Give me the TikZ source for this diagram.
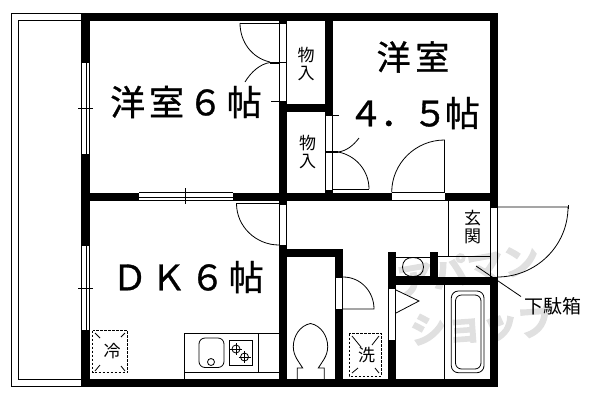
\documentclass[tikz,border=0pt]{standalone}
\usepackage{fontspec}
\newfontfamily\jp{Noto Sans CJK JP}
\newfontfamily\jpwide[LetterSpace=11,FakeBold=1]{Noto Sans CJK JP}
\newfontfamily\jpmid[LetterSpace=14,FakeBold=1]{Noto Sans CJK JP}
\newfontfamily\jptight[LetterSpace=-8,FakeBold=1]{Noto Sans CJK JP}
\newfontfamily\jpwm[FakeBold=4]{Noto Sans CJK JP Bold}
\definecolor{wm}{gray}{0.88}
\tikzset{
  wall/.style={fill=black},
  thin line/.style={draw=black,line width=0.8pt},
  heavy tick/.style={draw=black,line width=2pt},
  dash box/.style={draw=black,line width=0.8pt,dash pattern=on 2.5pt off 1.5pt},
  room big/.style={font=\jpwide\fontsize{35}{35}\selectfont,inner sep=0pt},
  room small/.style={font=\jp\fontsize{17}{18.5}\selectfont,inner sep=0pt,align=center},
  watermark/.style={font=\jpwm\fontsize{36}{36}\selectfont,text=wm,inner sep=0pt}
}
\begin{document}
\begin{tikzpicture}[x=1pt,y=-1pt]
\useasboundingbox (0,0) rectangle (600,400);
\fill[white] (0,0) rectangle (600,400);
% watermark
\node[watermark,rotate=10] (wma) at (468,269) {アパマン};
\node[watermark,rotate=4] (wmb) at (482,325) {ショップ};
% balcony
\draw[thin line] (81,13.5) -- (11.7,13.5) -- (11.7,386.3) -- (81,386.3);
\draw[thin line] (81,20.7) -- (18.3,20.7) -- (18.3,379.3) -- (81,379.3);
% walls: outer
\fill[wall] (81,13) rectangle (498,21);
\fill[wall] (81,379) rectangle (498,386.7);
\fill[wall] (81,13) rectangle (90,62.7);
\fill[wall] (81,154) rectangle (90,245.7);
\fill[wall] (81,330) rectangle (90,386.7);
\fill[wall] (490,13) rectangle (498,207.7);
\fill[wall] (490,277) rectangle (498,386.7);
% middle horizontal
\fill[wall] (81,192.5) rectangle (139,200.7);
\fill[wall] (233,192.5) rectangle (391.7,200.7);
\fill[wall] (444.5,192.5) rectangle (498,200.7);
% inner verticals
\fill[wall] (279.3,13) rectangle (287,23);
\fill[wall] (279.3,101) rectangle (287,204);
\fill[wall] (279.3,245) rectangle (287,386.7);
\fill[wall] (279.3,104) rectangle (333,111.5);
\fill[wall] (325.3,13) rectangle (333,115.7);
\fill[wall] (325.3,190) rectangle (333,200.7);
\fill[wall] (279.3,249) rectangle (343,256.7);
\fill[wall] (335,249) rectangle (343,277);
\fill[wall] (335,309) rectangle (343,386.7);
\fill[wall] (388.3,252) rectangle (396,288);
\fill[wall] (388.3,340) rectangle (396,386.7);
\fill[wall] (430,252) rectangle (437.7,277);
\fill[wall] (388.3,277.3) rectangle (498,285);
% windows
\draw[thin line] (81.5,62.7) -- (81.5,154) (86,62.7) -- (86,154) (89.7,62.7) -- (89.7,154);
\draw[thin line] (78,108) -- (93,108);
\draw[thin line] (81.5,245.7) -- (81.5,330) (86,245.7) -- (86,330) (89.7,245.7) -- (89.7,330);
\draw[thin line] (78,288.6) -- (93,288.6);
\draw[thin line] (139,192.8) -- (233,192.8) (139,197) -- (233,197) (139,200.4) -- (233,200.4);
\draw[thin line] (185.5,188) -- (185.5,204);
% door strips
\draw[thin line] (279.6,23) rectangle (286.7,101);
\draw[thin line] (325.6,115.7) rectangle (332.7,190);
\draw[thin line] (279.6,204) rectangle (286.7,245);
\draw[thin line] (335.3,277) rectangle (342.7,309);
\draw[thin line] (388.6,288) rectangle (395.7,340);
\draw[thin line] (490.3,207.7) rectangle (497.5,277);
\draw[thin line] (391.7,192.7) -- (444.5,192.7) (391.7,200.4) -- (444.5,200.4);
% closet door 1
\draw[thin line] (240,23) -- (279.3,23);
\draw[thin line] (240,23) .. controls (240,42) and (252,58) .. (270,62);
\draw[heavy tick] (270,62.5) -- (279.3,62.5);
\draw[thin line] (279.3,62.5) -- (287,62.5);
\draw[thin line] (270,62.5) .. controls (260,64) and (251,72) .. (245,82);
\draw[thin line] (271,101) -- (279.3,101);
% closet door 2
\draw[heavy tick] (326,152) -- (338,152);
\draw[thin line] (338,152) .. controls (355,155) and (369,170) .. (369,189);
\draw[thin line] (332.7,189) -- (369,189);
\draw[thin line] (338,152) .. controls (346,151) and (353,146) .. (359,138);
\draw[thin line] (333,115.5) -- (339,115.5);
% door 4.5
\draw[thin line] (444.5,192.3) -- (444.5,140) .. controls (415.6,140) and (391.7,163.4) .. (391.7,192.3);
% DK door
\draw[thin line] (279,203.5) -- (236.5,203.5) .. controls (236.5,226.6) and (256,245) .. (279,245);
% toilet door
\draw[thin line] (343,277) .. controls (360.6,277) and (374,291.4) .. (374,309) -- (343,309);
% entrance door
\draw[thin line] (497,207) -- (568,207) .. controls (568,246) and (536,277) .. (497,277);
\draw[thin line] (568,205) -- (568,209);
% genkan
\draw[thin line] (448,200.7) -- (448,256) (437.7,256) -- (490,256);
\coordinate (leadA) at (476,266);
\coordinate (leadB) at (521,296.5);
\draw[thin line] (leadA) -- (leadB);
\draw[thin line] (444.5,285) -- (444.5,379);
% washbasin
\draw[thin line] (396,257) -- (430,257) (396,276.5) -- (430,276.5);
\draw[thin line] (402.5,267) .. controls (402.5,260.5) and (407,257.5) .. (413,257.5) .. controls (419,257.5) and (423.5,260.5) .. (423.5,267) .. controls (423.5,273.5) and (419,276.5) .. (413,276.5) .. controls (407,276.5) and (402.5,273.5) .. (402.5,267) -- cycle;
\draw[thin line] (396,290) -- (419,301) -- (396,313);
% bath
\draw[thin line,rounded corners=7pt] (451.3,291) rectangle (484,372.7);
\draw[thin line,rounded corners=6pt] (455.5,295) rectangle (481,369);
% washer
\draw[dash box] (349.3,333.5) rectangle (381.6,376);
\draw[thin line] (352,336) -- (361,347) (379,336) -- (372,345) (352,373) -- (358,368) (379,373) -- (375,368);
% toilet
\draw[thin line] (297.3,379) -- (297.3,368) -- (302.7,368) .. controls (299,362) and (293.3,356) .. (293.3,346.7) .. controls (293.3,336) and (300,325.5) .. (310.5,323.5) .. controls (321,325.5) and (327.7,336) .. (327.7,346.7) .. controls (327.7,356) and (322,362) .. (318.3,368) -- (324.3,368) -- (324.3,379);
% kitchen
\draw[thin line] (184.5,379) -- (184.5,333.3) -- (279.3,333.3);
\draw[thin line] (184.5,372.5) -- (279.3,372.5);
\draw[thin line] (258.5,333.3) -- (258.5,372.5);
\draw[thin line,rounded corners=6pt] (199,338) rectangle (224,367.5);
\draw[thin line] (211,362) circle[radius=3.5];
\draw[thin line] (229.3,340) rectangle (252,365.5);
\draw[thin line] (236,349) circle[radius=4];
\draw[thin line] (244.5,357) circle[radius=4];
\draw[thin line] (236,343) -- (236,355) (230,349) -- (242,349);
\draw[thin line] (244.5,351) -- (244.5,363) (238.5,357) -- (250.5,357);
% fridge
\draw[dash box] (92.5,330.5) rectangle (127.5,372.5);
\draw[thin line] (95,333) -- (100,338) (125,333) -- (121,337) (95,371) -- (100,365) (125,371) -- (121,366);
% texts
\node[room big] (r1) at (186,102) {洋室６帖};
\node[room big,font=\jpmid\fontsize{34}{34}\selectfont] (r2a) at (413,57) {洋室};
\node[room big,font=\jptight\fontsize{35}{35}\selectfont] (r2b) at (414,113) {４．５帖};
\node[room big] (r3) at (188,277) {ＤＫ６帖};
\node[room small] (c1) at (306,64) {物\\入};
\node[room small] (c2) at (307.5,152) {物\\入};
\node[room small] (g) at (472.5,227) {玄\\関};
\node[room small,font=\jp\fontsize{19}{19}\selectfont] (s) at (552.5,306.5) {下駄箱};
\node[room small] (f) at (112,351) {冷};
\node[room small] (w) at (366.5,355) {洗};
\end{tikzpicture}
\end{document}
